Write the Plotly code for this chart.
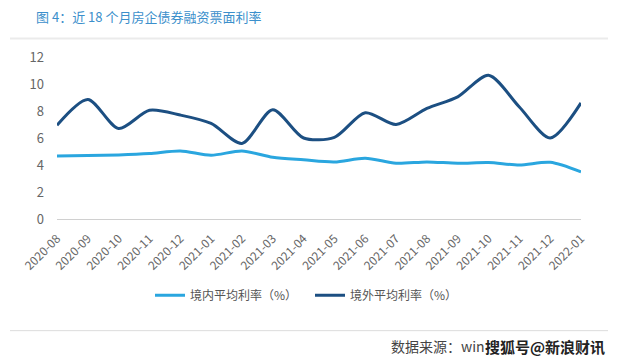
import plotly.graph_objects as go

months = ["2020-08", "2020-09", "2020-10", "2020-11", "2020-12", "2021-01", "2021-02",
          "2021-03", "2021-04", "2021-05", "2021-06", "2021-07", "2021-08", "2021-09",
          "2021-10", "2021-11", "2021-12", "2022-01"]
domestic = [4.67, 4.70, 4.75, 4.85, 5.04, 4.72, 5.04, 4.57, 4.38, 4.22, 4.50, 4.13,
            4.23, 4.13, 4.18, 4.00, 4.20, 3.49]
overseas = [6.95, 8.86, 6.70, 8.05, 7.70, 7.08, 5.60, 8.10, 6.00, 6.05, 7.87, 7.00,
            8.19, 9.05, 10.65, 8.30, 6.00, 8.60]
y_ticks = [0, 2, 4, 6, 8, 10, 12]

name_dom = "境内平均利率（%）"
name_ovs = "境外平均利率（%）"
title = "图 4：近 18 个月房企债券融资票面利率"
source = "数据来源：win"
watermark = "搜狐号@新浪财讯"

FONT = "Noto Sans CJK SC, Noto Sans, sans-serif"
LIGHT = "#2aa6df"
DARK = "#1c4f82"

L, R, T, B = 57, 41, 57, 142.5
W, H = 622, 362
PW, PH = W - L - R, H - T - B


def px(x):
    return (x - L) / PW


def py(y):
    return (H - B - y) / PH


fig = go.Figure()
fig.add_trace(go.Scatter(x=months, y=domestic, name=name_dom, mode="lines",
                         line=dict(color=LIGHT, width=3, shape="spline", smoothing=0.8)))
fig.add_trace(go.Scatter(x=months, y=overseas, name=name_ovs, mode="lines",
                         line=dict(color=DARK, width=3, shape="spline", smoothing=0.8)))

fig.update_layout(
    width=W, height=H,
    margin=dict(l=L, r=R, t=T, b=B),
    paper_bgcolor="white", plot_bgcolor="white",
    font=dict(family=FONT, color="#666666", size=12),
    showlegend=True,
    legend=dict(orientation="h", x=px(150), xanchor="left", y=py(296), yanchor="middle",
                font=dict(size=12, color="#555555"), itemwidth=30,
                entrywidth=115, entrywidthmode="pixels",
                tracegroupgap=0, bgcolor="rgba(0,0,0,0)"),
    xaxis=dict(type="category", tickangle=-45, showgrid=False, showline=True,
               linecolor="#d0d0d0", linewidth=1, ticks="", automargin=False,
               ticklabelstandoff=7,
               tickfont=dict(size=12, color="#666666"), zeroline=False),
    yaxis=dict(range=[0, 12], tickvals=y_ticks, showgrid=False, zeroline=False,
               showline=False, ticks="", ticklabelstandoff=12, automargin=False,
               tickfont=dict(size=13, color="#666666")),
)

# title
fig.add_annotation(text=title, xref="paper", yref="paper", x=px(34), y=py(16),
                   xanchor="left", yanchor="middle",
                   showarrow=False, font=dict(size=13, color="#3b8fcb", family=FONT))

# frame lines
fig.add_shape(type="line", xref="paper", yref="paper", x0=px(10), x1=px(608),
              y0=py(38.5), y1=py(38.5), line=dict(color="#ebebeb", width=2))
fig.add_shape(type="line", xref="paper", yref="paper", x0=px(10), x1=px(608),
              y0=py(331.5), y1=py(331.5), line=dict(color="#dcdcdc", width=1))

# source
fig.add_annotation(text=source, xref="paper", yref="paper", x=px(389),
                   y=py(347), xanchor="left", yanchor="middle",
                   showarrow=False, font=dict(size=14, color="#444444", family=FONT))
fig.add_annotation(text="<b>" + watermark + "</b>", xref="paper", yref="paper",
                   x=px(483), y=py(347), xanchor="left",
                   yanchor="middle", showarrow=False,
                   font=dict(size=15, color="#222222", family=FONT))

fig.write_html("out.html", config={"displayModeBar": False},
               post_script="document.body.style.margin='0px';")
